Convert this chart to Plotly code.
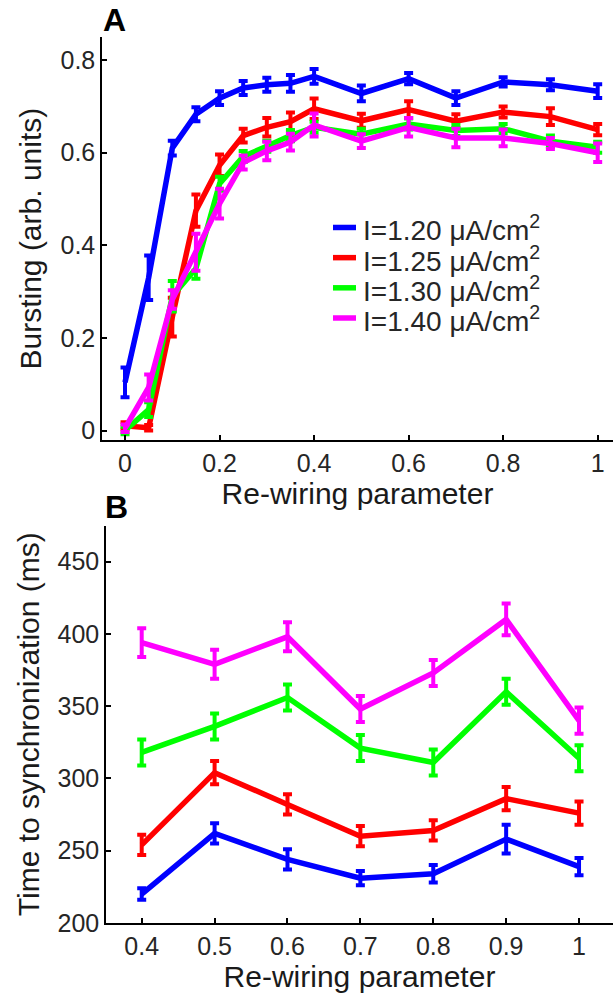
import plotly.graph_objects as go

# ---------------- Data ----------------
labels = ["I=1.20 μA/cm<sup>2</sup>", "I=1.25 μA/cm<sup>2</sup>",
          "I=1.30 μA/cm<sup>2</sup>", "I=1.40 μA/cm<sup>2</sup>"]
colors = ["#0000FF", "#FF0000", "#00FF00", "#FF00FF"]

# Panel A: bursting vs re-wiring parameter
rewire_a = [0, 0.05, 0.1, 0.15, 0.2, 0.25, 0.3, 0.35, 0.4, 0.5, 0.6, 0.7, 0.8, 0.9, 1.0]
burst_120 = [0.104, 0.33, 0.61, 0.683, 0.718, 0.740, 0.747, 0.750, 0.765, 0.728, 0.760, 0.718, 0.753, 0.747, 0.733]
burst_125 = [0.010, 0.006, 0.245, 0.475, 0.573, 0.637, 0.655, 0.667, 0.695, 0.669, 0.693, 0.668, 0.688, 0.678, 0.650]
burst_130 = [0.000, 0.045, 0.290, 0.350, 0.533, 0.592, 0.614, 0.637, 0.655, 0.640, 0.662, 0.648, 0.652, 0.625, 0.612]
burst_140 = [0.005, 0.093, 0.283, 0.385, 0.490, 0.579, 0.604, 0.623, 0.660, 0.625, 0.655, 0.632, 0.632, 0.620, 0.600]
err_a_120 = [0.032, 0.048, 0.016, 0.015, 0.015, 0.015, 0.015, 0.018, 0.016, 0.017, 0.012, 0.015, 0.010, 0.012, 0.015]
err_a_125 = [0.008, 0.006, 0.042, 0.035, 0.023, 0.015, 0.020, 0.020, 0.022, 0.015, 0.018, 0.015, 0.012, 0.018, 0.012]
err_a_130 = [0.008, 0.016, 0.033, 0.022, 0.015, 0.012, 0.012, 0.012, 0.012, 0.012, 0.012, 0.012, 0.010, 0.012, 0.012]
err_a_140 = [0.008, 0.028, 0.020, 0.040, 0.032, 0.015, 0.020, 0.018, 0.025, 0.015, 0.020, 0.020, 0.018, 0.012, 0.020]

# Panel B: time to synchronization vs re-wiring parameter
rewire_b = [0.4, 0.5, 0.6, 0.7, 0.8, 0.9, 1.0]
sync_120 = [220, 262, 244, 231, 234, 258, 239]
sync_125 = [254, 304, 282, 260, 264, 286, 276]
sync_130 = [318, 336, 356, 321, 311, 360, 314]
sync_140 = [394, 379, 398, 348, 373, 410, 340]
err_b_120 = [4, 7, 7, 5, 6, 10, 6]
err_b_125 = [7, 8, 7, 7, 7, 8, 8]
err_b_130 = [9, 9, 9, 9, 9, 9, 9]
err_b_140 = [10, 10, 10, 9, 9, 11, 9]

series_a = [burst_120, burst_125, burst_130, burst_140]
errs_a = [err_a_120, err_a_125, err_a_130, err_a_140]
series_b = [sync_120, sync_125, sync_130, sync_140]
errs_b = [err_b_120, err_b_125, err_b_130, err_b_140]

# ---------------- Figure ----------------
W, H = 613, 1002
FONT = "Liberation Sans, Arial, Helvetica, sans-serif"
TXT = "#262626"
LW = 5.5

fig = go.Figure()
for lab, col, ys, es in zip(labels, colors, series_a, errs_a):
    fig.add_trace(go.Scatter(
        x=rewire_a, y=ys, mode="lines", name=lab,
        line=dict(color=col, width=LW),
        error_y=dict(type="data", array=es, color=col, thickness=4, width=4.5),
        xaxis="x", yaxis="y", showlegend=False))
for lab, col, ys, es in zip(labels, colors, series_b, errs_b):
    fig.add_trace(go.Scatter(
        x=rewire_b, y=ys, mode="lines", name=lab,
        line=dict(color=col, width=LW),
        error_y=dict(type="data", array=es, color=col, thickness=4, width=4.5),
        xaxis="x2", yaxis="y2", showlegend=False))

axis_common = dict(showline=True, linecolor="black", linewidth=1.5,
                   ticks="inside", ticklen=5, tickwidth=1.5, tickcolor="black",
                   showgrid=False, zeroline=False,
                   tickfont=dict(family=FONT, size=25, color=TXT))
title_font = dict(family=FONT, size=30, color="#1a1a1a")

# legend drawn as line samples + labels (panel A)
leg_rows = [230.7, 261.3, 291.9, 322.5]
shapes = []
annotations = []
for lab, col, yy in zip(labels, colors, leg_rows):
    shapes.append(dict(type="line", xref="paper", yref="paper",
                       x0=333 / W, x1=356 / W, y0=1 - yy / H, y1=1 - yy / H,
                       line=dict(color=col, width=LW)))
    annotations.append(dict(text=lab, x=361 / W, y=1 - (yy + 1) / H,
                            xref="paper", yref="paper", showarrow=False,
                            xanchor="left", yanchor="middle",
                            font=dict(family=FONT, size=28, color=TXT)))

annotations += [
    dict(text="<b>A</b>", x=114 / W, y=1 - 20 / H, xref="paper", yref="paper",
         showarrow=False, font=dict(family=FONT, size=32, color="black"),
         xanchor="center", yanchor="middle"),
    dict(text="<b>B</b>", x=117 / W, y=1 - 514 / H, xref="paper", yref="paper",
         showarrow=False, font=dict(family=FONT, size=32, color="black"),
         xanchor="center", yanchor="middle"),
]

fig.update_layout(
    width=W, height=H,
    margin=dict(l=0, r=0, t=0, b=0),
    paper_bgcolor="white", plot_bgcolor="white",
    font=dict(family=FONT, color=TXT),
    showlegend=False,
    xaxis=dict(domain=[102 / W, 1.0], range=[-0.0487, 1.0324],
               tickvals=[0, 0.2, 0.4, 0.6, 0.8, 1.0],
               ticktext=["0", "0.2", "0.4", "0.6", "0.8", "1"],
               anchor="y",
               title=dict(text="Re-wiring parameter", standoff=2, font=title_font),
               **axis_common),
    yaxis=dict(domain=[1 - 446 / H, 1 - 38 / H], range=[-0.02, 0.849],
               tickvals=[0, 0.2, 0.4, 0.6, 0.8],
               ticktext=["0", "0.2", "0.4", "0.6", "0.8"],
               anchor="x",
               title=dict(text="Bursting (arb. units)", standoff=10, font=title_font),
               **axis_common),
    xaxis2=dict(domain=[106 / W, 1.0], range=[0.351, 1.0466],
                tickvals=rewire_b,
                ticktext=["0.4", "0.5", "0.6", "0.7", "0.8", "0.9", "1"],
                anchor="y2",
                title=dict(text="Re-wiring parameter", standoff=6, font=title_font),
                **axis_common),
    yaxis2=dict(domain=[1 - 936 / H, 1 - 533 / H], range=[200, 475],
                tickvals=[200, 250, 300, 350, 400, 450],
                anchor="x2",
                title=dict(text="Time to synchronization (ms)", standoff=9, font=title_font),
                **axis_common),
    shapes=shapes,
    annotations=annotations,
)

fig.write_html("out.html", config={"displayModeBar": False},
               post_script="document.body.style.margin='0';document.body.style.overflow='hidden';")
